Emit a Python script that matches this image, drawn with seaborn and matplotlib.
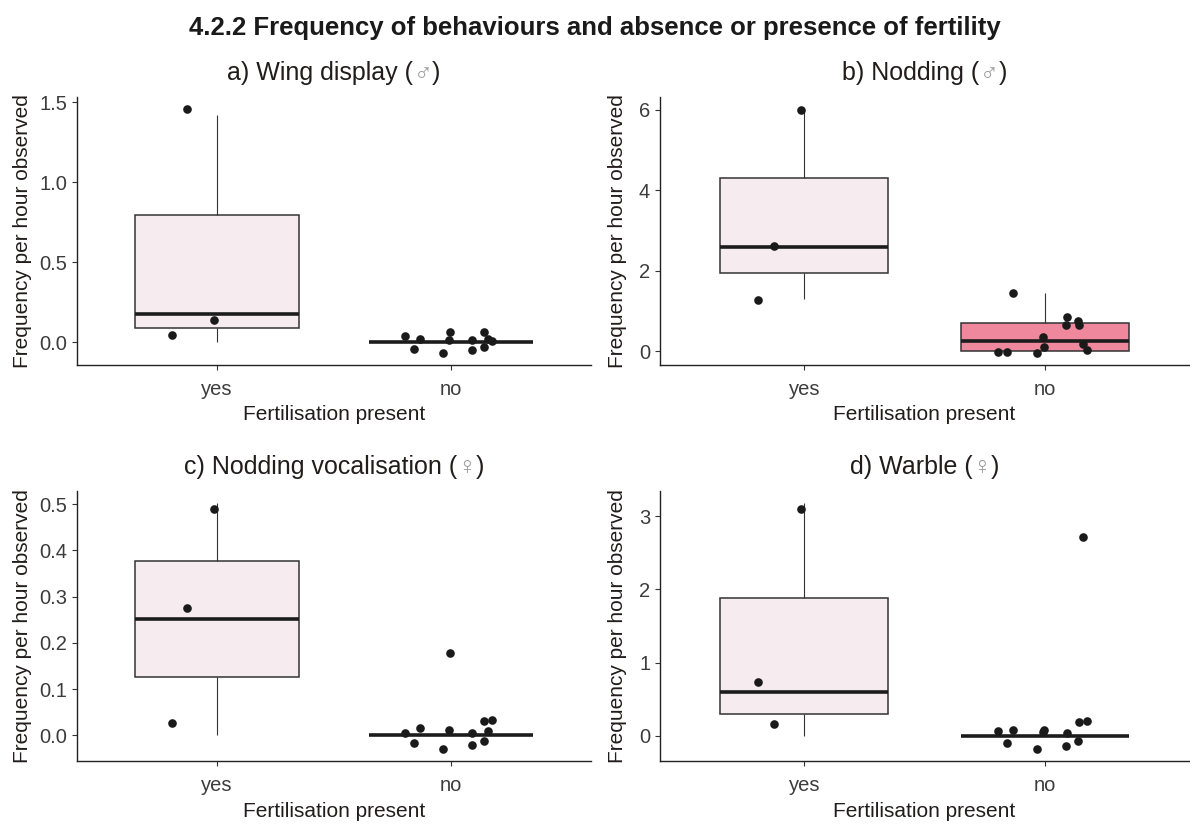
import numpy as np
import pandas as pd
import matplotlib
matplotlib.use("Agg")
import matplotlib.pyplot as plt
import seaborn as sns
from matplotlib.ticker import MultipleLocator
from matplotlib.offsetbox import TextArea, HPacker, AnchoredOffsetbox

# ---------------------------------------------------------------- data
groups = ["yes", "no"]
xlabel = "Fertilisation present"
ylabel = "Frequency per hour observed"
main_title = "4.2.2 Frequency of behaviours and absence or presence of fertility"

# Hourly rates per bird, summarised by the boxes
wing_yes = [0.0, 0.176, 1.42]
wing_no = [0.0] * 12
nod_yes = [1.29, 2.59, 6.02]
nod_no = [0.0, 0.0, 0.0, 0.0, 0.10, 0.18, 0.348, 0.64, 0.69, 0.76, 0.86, 1.44]
vocal_yes = [0.0, 0.252, 0.502]
vocal_no = [0.0] * 11 + [0.18]
warble_yes = [0.0, 0.595, 3.18]
warble_no = [0.0] * 11 + [2.72]

# The same rates as drawn points (vertically jittered)
wing_pts_yes = [1.458, 0.048, 0.141]
wing_pts_no = [-0.05, -0.066, 0.017, 0.037, 0.062, 0.01, -0.031, 0.017,
               -0.039, 0.021, 0.062, 0.021]
nod_pts_yes = [2.61, 1.28, 5.99]
nod_pts_no = [0.64, -0.04, 0.345, -0.025, 0.10, 0.04, 0.74, 0.86,
              -0.01, 0.18, 0.64, 1.44]
vocal_pts_yes = [0.2755, 0.027, 0.489]
vocal_pts_no = [-0.022, -0.029, 0.012, 0.004, 0.179, 0.034, -0.013, 0.006,
                -0.016, 0.009, 0.032, 0.016]
warble_pts_yes = [0.154, 0.74, 3.10]
warble_pts_no = [-0.14, -0.18, 0.045, 0.06, 0.077, 0.20, -0.077, 0.04,
                 -0.10, 2.723, 0.18, 0.077]

panel_titles = ["a) Wing display (", "b) Nodding (",
                "c) Nodding vocalisation (", "d) Warble ("]
panel_symbols = ["\u2642", "\u2642", "\u2640", "\u2640"]
tick_steps = [0.5, 2, 0.1, 1]

LIGHT = "#F6ECEF"
PINK = "#EF889C"
box_fills = [
    {"yes": LIGHT, "no": LIGHT},
    {"yes": LIGHT, "no": PINK},
    {"yes": LIGHT, "no": LIGHT},
    {"yes": LIGHT, "no": LIGHT},
]

# ---------------------------------------------------------------- style
sns.set_theme(style="ticks")
plt.rcParams["font.family"] = ["Liberation Sans", "DejaVu Sans"]

W, H = 1190, 824
fig = plt.figure(figsize=(W / 100, H / 100), dpi=100)


def frac_axes(left, top, right, bottom):
    return fig.add_axes([left / W, 1 - bottom / H, (right - left) / W, (bottom - top) / H])


axes = [
    frac_axes(77, 97, 591, 365),
    frac_axes(660, 97, 1189, 365),
    frac_axes(77, 491, 591, 761),
    frac_axes(660, 491, 1189, 761),
]
ylabel_x = [-0.106, -0.080, -0.106, -0.080]

box_sets = [(wing_yes, wing_no), (nod_yes, nod_no),
            (vocal_yes, vocal_no), (warble_yes, warble_no)]
pt_sets = [(wing_pts_yes, wing_pts_no), (nod_pts_yes, nod_pts_no),
           (vocal_pts_yes, vocal_pts_no), (warble_pts_yes, warble_pts_no)]

TEXT = "#221c1c"
TICKTXT = "#3c3c3c"

for i, ax in enumerate(axes):
    b_yes, b_no = box_sets[i]
    p_yes, p_no = pt_sets[i]
    box_df = pd.DataFrame({"fert": ["yes"] * len(b_yes) + ["no"] * len(b_no),
                           "rate": b_yes + b_no})
    pts_df = pd.DataFrame({"fert": ["yes"] * len(p_yes) + ["no"] * len(p_no),
                           "rate": p_yes + p_no})

    sns.boxplot(data=box_df, x="fert", y="rate", hue="fert", order=groups,
                hue_order=groups, palette=box_fills[i], legend=False,
                width=0.7, saturation=1, showfliers=False, showcaps=False,
                linecolor="#333333", linewidth=1.1,
                medianprops=dict(color="#1c1c1c", linewidth=2.6),
                whiskerprops=dict(linewidth=0.8),
                ax=ax)
    np.random.seed(11)
    sns.stripplot(data=pts_df, x="fert", y="rate", order=groups,
                  color="#1a1a1a", size=6.2, jitter=0.2, linewidth=0,
                  zorder=5, ax=ax)

    allv = np.concatenate([b_yes, b_no, p_yes, p_no])
    lo, hi = allv.min(), allv.max()
    rng = hi - lo
    ax.set_ylim(lo - 0.05 * rng, hi + 0.05 * rng)
    ax.set_xlim(-0.6, 1.6)
    ax.yaxis.set_major_locator(MultipleLocator(tick_steps[i]))

    sns.despine(ax=ax)
    for side in ["left", "bottom"]:
        ax.spines[side].set_color("#222222")
        ax.spines[side].set_linewidth(1.0)
    ax.tick_params(axis="both", length=3.6, width=0.8, color="#333333",
                   labelsize=14.5, labelcolor=TICKTXT)
    ax.tick_params(axis="x", pad=7)
    ax.tick_params(axis="y", pad=3.5)

    ax.set_xlabel(xlabel, fontsize=15, color=TEXT, va="center")
    ax.xaxis.set_label_coords(0.5, -50 / 268)
    ax.set_ylabel(ylabel, fontsize=15, color=TEXT, va="center")
    ax.yaxis.set_label_coords(ylabel_x[i], 0.5)

    parts = [
        TextArea(panel_titles[i], textprops=dict(color=TEXT, fontsize=18)),
        TextArea(panel_symbols[i], textprops=dict(color="#9a9a9a", fontsize=18)),
        TextArea(")", textprops=dict(color=TEXT, fontsize=18)),
    ]
    packed = HPacker(children=parts, align="baseline", pad=0, sep=0)
    anchored = AnchoredOffsetbox(loc="lower center", child=packed, pad=0,
                                 borderpad=0, frameon=False,
                                 bbox_to_anchor=(0.5, 1 + 12 / 268),
                                 bbox_transform=ax.transAxes)
    ax.add_artist(anchored)

fig.text(0.5, 1 - 28 / H, main_title, ha="center", va="center",
         fontsize=18.5, fontweight="bold", color="#1a1a1a")

fig.savefig("out.png", dpi=100)
